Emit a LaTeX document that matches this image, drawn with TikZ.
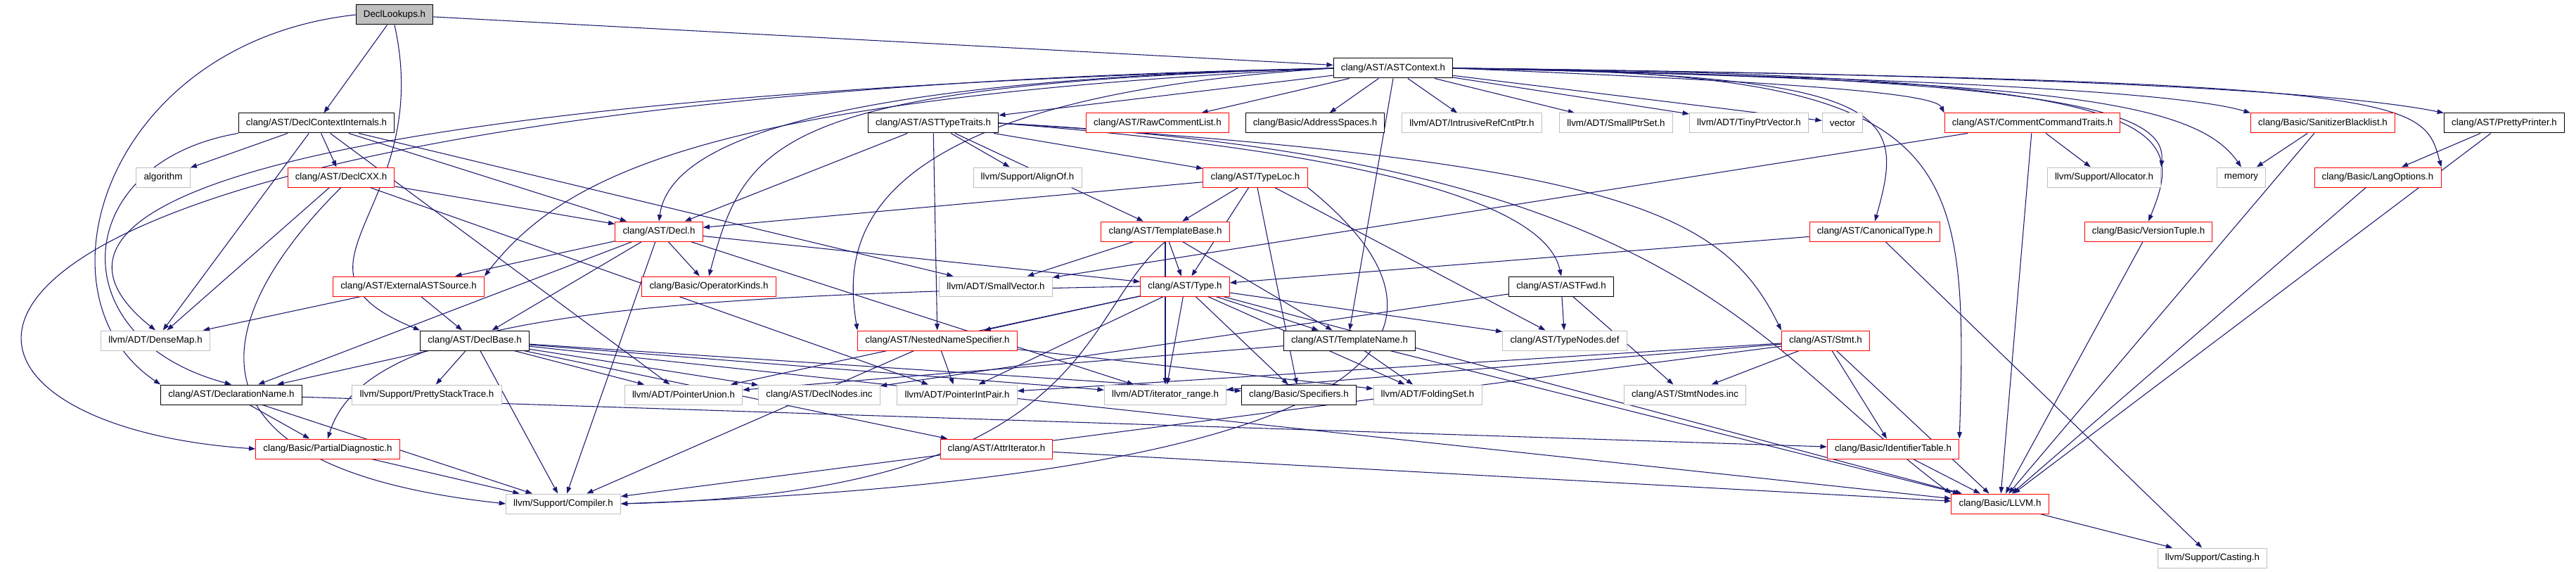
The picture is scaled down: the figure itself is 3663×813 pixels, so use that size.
\documentclass[tikz,border=0pt]{standalone}
\usepackage{fontspec}
\setmainfont{Liberation Sans}
\usetikzlibrary{arrows.meta,backgrounds}
\definecolor{edgeblue}{HTML}{191970}
\definecolor{filegrey}{HTML}{BFBFBF}
\definecolor{filered}{HTML}{FF0000}

\begin{document}
\begin{tikzpicture}[x=0.75pt,y=-0.75pt,
    file/.style={draw=black,fill=white,line width=0.75pt,font=\fontsize{10}{12}\selectfont,
      inner xsep=8pt,inner ysep=0pt,minimum height=21pt},
    redfile/.style={file,draw=filered},
    sysfile/.style={file,draw=filegrey},
    topfile/.style={file,fill=filegrey}]
  \useasboundingbox (0,0) rectangle (3663,813);
  % files, row by row
  \node[topfile] (lookups) at (561,21) {DeclLookups.h};
  \node[file] (astctx) at (1981,97) {clang/AST/ASTContext.h};

  \node[file] (dci) at (450,175) {clang/AST/DeclContextInternals.h};
  \node[file] (atraits) at (1327,175) {clang/AST/ASTTypeTraits.h};
  \node[redfile] (rawcl) at (1646,175) {clang/AST/RawCommentList.h};
  \node[file] (addrsp) at (1870,175) {clang/Basic/AddressSpaces.h};
  \node[sysfile] (irefptr) at (2093,175) {llvm/ADT/IntrusiveRefCntPtr.h};
  \node[sysfile] (sptrset) at (2298,175) {llvm/ADT/SmallPtrSet.h};
  \node[sysfile] (tinyvec) at (2487,175) {llvm/ADT/TinyPtrVector.h};
  \node[sysfile] (vec) at (2620,175) {vector};
  \node[redfile] (cmdtraits) at (2890,175) {clang/AST/CommentCommandTraits.h};
  \node[redfile] (sanbl) at (3303,175) {clang/Basic/SanitizerBlacklist.h};
  \node[file] (pprint) at (3561,175) {clang/AST/PrettyPrinter.h};

  \node[sysfile] (algo) at (232,252) {algorithm};
  \node[redfile] (declcxx) at (485,252) {clang/AST/DeclCXX.h};
  \node[sysfile] (alignof) at (1461,252) {llvm/Support/AlignOf.h};
  \node[redfile] (typeloc) at (1785,252) {clang/AST/TypeLoc.h};
  \node[sysfile] (alloc) at (2992,252) {llvm/Support/Allocator.h};
  \node[sysfile] (mem) at (3187,252) {memory};
  \node[redfile] (langopt) at (3381,252) {clang/Basic/LangOptions.h};

  \node[redfile] (decl) at (937,329) {clang/AST/Decl.h};
  \node[redfile] (tbase) at (1657,329) {clang/AST/TemplateBase.h};
  \node[redfile] (canon) at (2666,329) {clang/AST/CanonicalType.h};
  \node[redfile] (vtuple) at (3055,329) {clang/Basic/VersionTuple.h};

  \node[redfile] (extsrc) at (581,407) {clang/AST/ExternalASTSource.h};
  \node[redfile] (opkinds) at (1008,407) {clang/Basic/OperatorKinds.h};
  \node[sysfile] (svec) at (1416,407) {llvm/ADT/SmallVector.h};
  \node[redfile] (type) at (1685,407) {clang/AST/Type.h};
  \node[file] (astfwd) at (2220,407) {clang/AST/ASTFwd.h};

  \node[sysfile] (densemap) at (221,484) {llvm/ADT/DenseMap.h};
  \node[file] (declbase) at (675,484) {clang/AST/DeclBase.h};
  \node[redfile] (nns) at (1333,484) {clang/AST/NestedNameSpecifier.h};
  \node[file] (tname) at (1919,484) {clang/AST/TemplateName.h};
  \node[sysfile] (tnodes) at (2225,484) {clang/AST/TypeNodes.def};
  \node[redfile] (stmt) at (2596,484) {clang/AST/Stmt.h};

  \node[file] (dname) at (329,561) {clang/AST/DeclarationName.h};
  \node[sysfile] (pstack) at (607,561) {llvm/Support/PrettyStackTrace.h};
  \node[sysfile] (punion) at (972,561) {llvm/ADT/PointerUnion.h};
  \node[sysfile] (dnodes) at (1165,561) {clang/AST/DeclNodes.inc};
  \node[sysfile] (pipair) at (1361,561) {llvm/ADT/PointerIntPair.h};
  \node[sysfile] (irange) at (1657,561) {llvm/ADT/iterator\_range.h};
  \node[file] (spec) at (1847,561) {clang/Basic/Specifiers.h};
  \node[sysfile] (fset) at (2030,561) {llvm/ADT/FoldingSet.h};
  \node[sysfile] (snodes) at (2396,561) {clang/AST/StmtNodes.inc};

  \node[redfile] (pdiag) at (466,638) {clang/Basic/PartialDiagnostic.h};
  \node[redfile] (attrit) at (1417,638) {clang/AST/AttrIterator.h};
  \node[redfile] (idtable) at (2692,638) {clang/Basic/IdentifierTable.h};

  \node[sysfile] (compiler) at (801,716) {llvm/Support/Compiler.h};
  \node[redfile] (llvm) at (2844,716) {clang/Basic/LLVM.h};

  \node[sysfile] (casting) at (3146,793) {llvm/Support/Casting.h};

  % includes
  \begin{pgfonlayer}{background}
  \begin{scope}[-{Triangle[length=7pt,width=5pt]},draw=edgeblue,line width=0.8pt]
    \draw (lookups) to (astctx);
    \draw (lookups) to (dci);
    \draw (lookups.south) .. controls (620,300) and (380,380) .. (declbase.north west);
    \draw (lookups.west) .. controls (150,60) and (40,420) .. (dname.north west);

    \draw (astctx) to (atraits);
    \draw (astctx) to (rawcl);
    \draw (astctx) to (addrsp);
    \draw (astctx) to (irefptr);
    \draw (astctx) to (sptrset);
    \draw (astctx) to (tinyvec);
    \draw (astctx) to (vec);
    \draw (astctx.south) to (tname.north);
    \draw (astctx.west) .. controls (1100,115) and (950,220) .. (decl.north);
    \draw (astctx.west) .. controls (1100,120) and (1060,200) .. (opkinds.north);
    \draw (astctx.west) .. controls (1000,140) and (800,250) .. (extsrc.north east);
    \draw (astctx.west) .. controls (1200,140) and (1200,350) .. (nns.north west);
    \draw (astctx.west) .. controls (-50,150) and (110,380) .. (densemap.north);
    \draw (astctx.west) .. controls (-250,140) and (-200,600) .. (pdiag.west);
    \draw (astctx.east) .. controls (2500,115) and (2750,130) .. (cmdtraits.north west);
    \draw (astctx.east) .. controls (2700,110) and (3100,130) .. (sanbl.north west);
    \draw (astctx.east) .. controls (2800,105) and (3300,125) .. (pprint.north west);
    \draw (astctx.east) .. controls (2900,115) and (3120,140) .. (mem.north);
    \draw (astctx.east) .. controls (2950,110) and (3080,160) .. (alloc.north east);
    \draw (astctx.east) .. controls (3440,115) and (3445,140) .. (langopt.north east);
    \draw (astctx.east) .. controls (3100,105) and (3110,180) .. (vtuple.north);
    \draw (astctx.east) .. controls (2700,105) and (2710,160) .. (canon.north);
    \draw (astctx.east) .. controls (2780,100) and (2800,200) .. (idtable.north east);

    \draw (dci) to (algo);
    \draw (dci) to (declcxx);
    \draw (dci) to (densemap);
    \draw (dci) to (decl);
    \draw (dci.south west) .. controls (100,230) and (80,480) .. (dname.north);
    \draw (dci) to (punion);
    \draw (dci) to (svec);

    \draw (declcxx) to (decl);
    \draw (declcxx) to (densemap);
    \draw (declcxx.south) .. controls (330,420) and (200,660) .. (compiler.west);
    \draw (declcxx) to (pipair);

    \draw (atraits) to (alignof);
    \draw (atraits) to (typeloc);
    \draw (atraits) to (tbase);
    \draw (atraits) to (decl);
    \draw (atraits) to (nns);
    \draw (atraits.east) .. controls (2300,230) and (2450,300) .. (stmt.north west);
    \draw (atraits.east) .. controls (2000,220) and (2200,300) .. (astfwd.north);
    \draw (atraits.east) .. controls (2400,225) and (2500,500) .. (llvm.north west);

    \draw (typeloc) to (decl);
    \draw (typeloc) to (tbase);
    \draw (typeloc) to (type);
    \draw (typeloc) to (spec);
    \draw (typeloc) to (tnodes);
    \draw (typeloc.south east) .. controls (2150,500) and (1900,680) .. (compiler.east);

    \draw (tbase) to (type);
    \draw (tbase) to (tname);
    \draw (tbase) to (svec);
    \draw (tbase) to (irange);
    \draw (tbase.south) .. controls (1530,450) and (1560,700) .. (compiler.east);

    \draw (decl) to (extsrc);
    \draw (decl) to (dname);
    \draw (decl) to (declbase);
    \draw (decl) to (compiler);
    \draw (decl) to (opkinds);
    \draw (decl) to (type);
    \draw (decl) to (irange);

    \draw (extsrc) to (densemap);
    \draw (extsrc) to (declbase);

    \draw (declbase) to (dname);
    \draw (declbase) to (pstack);
    \draw (declbase) to (punion);
    \draw (declbase) to (dnodes);
    \draw (declbase) to (compiler);
    \draw (declbase) to (attrit);
    \draw (declbase) to (irange);
    \draw (declbase) to (spec);
    \draw (declbase) to (llvm);

    \draw (dname) to (pdiag);
    \draw (dname) to (compiler);
    \draw (dname) to (idtable);
    \draw (pdiag) to (compiler);
    \draw (attrit) to (llvm);

    \draw (nns) to (pipair);
    \draw (nns) to (compiler);
    \draw (nns) to (fset);

    \draw (type) to (nns);
    \draw (type) to (pipair);
    \draw (type) to (irange);
    \draw (type) to (spec);
    \draw (type) to (punion);
    \draw (type) to (tname);
    \draw (type) to (fset);
    \draw (type) to (tnodes);
    \draw (type) to (llvm);
    \draw (type.west) .. controls (900,420) and (520,450) .. (pdiag.north);

    \draw (tname) to (fset);
    \draw (tname) to (llvm);
    \draw (tname) to (punion);

    \draw (astfwd) to (tnodes);
    \draw (astfwd) to (snodes);
    \draw (astfwd) to (dnodes);

    \draw (stmt) to (snodes);
    \draw (stmt) to (idtable);
    \draw (stmt) to (llvm);
    \draw (stmt) to (compiler);
    \draw (stmt) to (pipair);
    \draw (stmt) to (irange);

    \draw (canon) to (type);
    \draw (canon) to (casting);
    \draw (cmdtraits) to (alloc);
    \draw (cmdtraits) to (llvm);
    \draw (cmdtraits) to (svec);
    \draw (sanbl) to (mem);
    \draw (sanbl) to (llvm);
    \draw (pprint) to (langopt);
    \draw (pprint) to (llvm);
    \draw (langopt) to (llvm);
    \draw (vtuple) to (llvm);
    \draw (idtable) to (llvm);
    \draw (llvm) to (casting);
  \end{scope}
  \end{pgfonlayer}
\end{tikzpicture}
\end{document}
